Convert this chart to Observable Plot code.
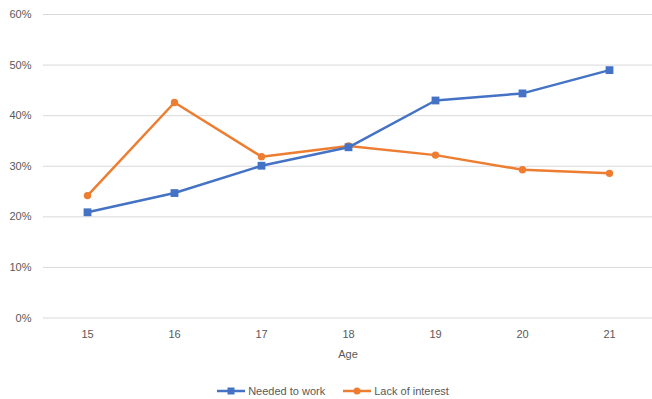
<!DOCTYPE html>
<html>
<head>
<meta charset="utf-8">
<script src="https://cdn.jsdelivr.net/npm/d3@7"></script>
<script src="https://cdn.jsdelivr.net/npm/@observablehq/plot@0.6"></script>
<style>
  html, body { margin: 0; padding: 0; background: #fff; }
  body { width: 652px; height: 399px; overflow: hidden; font-family: "Liberation Sans", Arial, sans-serif; }
  #legend { display: flex; justify-content: center; align-items: center; gap: 18px; height: 27px; margin-top: 5px; font-size: 11px; color: #595959; padding-left: 14px; }
  .item { display: flex; align-items: center; gap: 3px; }
</style>
</head>
<body>
<div id="chart"></div>
<div id="legend"></div>
<script>
const ages = [15, 16, 17, 18, 19, 20, 21];
const neededToWork = [0.209, 0.247, 0.301, 0.3375, 0.430, 0.444, 0.490];
const lackOfInterest = [0.242, 0.426, 0.319, 0.340, 0.322, 0.293, 0.286];
const seriesNames = ["Needed to work", "Lack of interest"];
const colors = ["#4472C4", "#ED7D31"];
const yTicks = [0, 0.1, 0.2, 0.3, 0.4, 0.5, 0.6];

const data = [];
ages.forEach((a, i) => {
  data.push({age: a, value: neededToWork[i], series: seriesNames[0]});
  data.push({age: a, value: lackOfInterest[i], series: seriesNames[1]});
});
const blue = data.filter(d => d.series === seriesNames[0]);
const orange = data.filter(d => d.series === seriesNames[1]);

const chart = Plot.plot({
  width: 652,
  height: 372,
  marginLeft: 43,
  marginRight: 0,
  marginTop: 14,
  marginBottom: 54.5,
  style: {fontFamily: "Liberation Sans, Arial, sans-serif", fontSize: "11px", color: "#595959", background: "#fff"},
  x: {type: "point", domain: ages, padding: 0.5, label: null},
  y: {domain: [0, 0.6], label: null},
  marks: [
    Plot.gridY(yTicks, {stroke: "#d9d9d9", strokeOpacity: 1, strokeWidth: 1}),
    Plot.axisY(yTicks, {tickSize: 0, tickPadding: 12, tickFormat: d3.format(".0%"), label: null, fill: "#595959"}),
    Plot.axisX(ages, {tickSize: 0, tickPadding: 12, label: null, fill: "#595959"}),
    Plot.text(["Age"], {frameAnchor: "bottom", dy: 40, fill: "#595959", fontSize: 11}),
    Plot.line(orange, {x: "age", y: "value", stroke: colors[1], strokeWidth: 2.5}),
    Plot.dot(orange, {x: "age", y: "value", fill: colors[1], r: 3.7, symbol: "circle"}),
    Plot.line(blue, {x: "age", y: "value", stroke: colors[0], strokeWidth: 2.5}),
    Plot.dot(blue, {x: "age", y: "value", fill: colors[0], r: 4.4, symbol: "square"})
  ]
});
document.getElementById("chart").appendChild(chart);

const legend = document.getElementById("legend");
seriesNames.forEach((name, i) => {
  const item = document.createElement("div");
  item.className = "item";
  const sym = i === 0
    ? `<rect x="10.5" y="3.5" width="7" height="7" fill="${colors[i]}"/>`
    : `<circle cx="14" cy="7" r="3.5" fill="${colors[i]}"/>`;
  item.innerHTML = `<svg width="28" height="14"><line x1="0" x2="28" y1="7" y2="7" stroke="${colors[i]}" stroke-width="2.5"/>${sym}</svg><span>${name}</span>`;
  legend.appendChild(item);
});
</script>
</body>
</html>
